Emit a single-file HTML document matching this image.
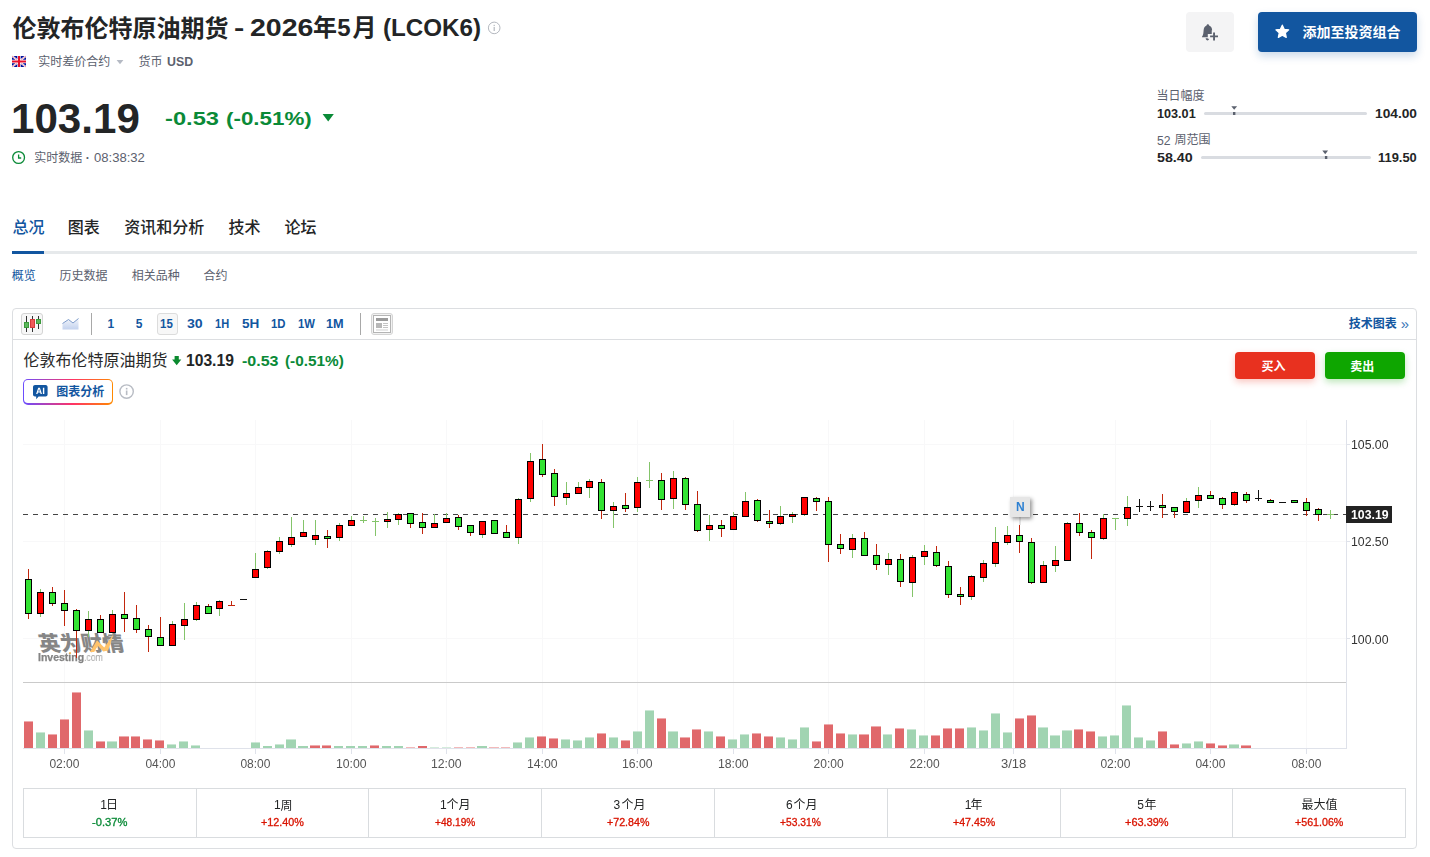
<!DOCTYPE html>
<html lang="zh-CN"><head><meta charset="utf-8"><title>伦敦布伦特原油期货 - 2026年5月 (LCOK6)</title><style>html,body{margin:0;padding:0;background:#fff}
body{width:1430px;height:857px;position:relative;overflow:hidden;font-family:"Liberation Sans",sans-serif}
.t{position:absolute;white-space:pre;line-height:1;transform-origin:0 0;display:block}
.b{position:absolute}
.cj{position:absolute;overflow:visible;display:block}
.cj text{font-family:"Liberation Sans","Noto Sans CJK SC",sans-serif}</style></head>
<body>
<svg class="cj" role="img" aria-label="伦敦布伦特原油期货" style="left:10.50px;top:13.81px;" width="218.70" height="26.85"><text x="1.592" y="22.592" font-size="24" font-weight="700" fill="#232526">伦敦布伦特原油期货</text></svg>
<span class="t" style="left:233.74px;top:16px;font-size:24px;font-weight:700;color:#232526;transform:scaleX(1.2867);">-</span>
<span class="t" style="left:250.07px;top:16px;font-size:24px;font-weight:700;color:#232526;transform:scaleX(1.1881);">2026</span>
<svg class="cj" role="img" aria-label="年" style="left:311.50px;top:13.90px;" width="26.15" height="26.66"><text x="1.112" y="22.496" font-size="24" font-weight="700" fill="#232526">年</text></svg>
<span class="t" style="left:337.32px;top:16px;font-size:24px;font-weight:700;color:#232526;">5</span>
<svg class="cj" role="img" aria-label="月" style="left:350.80px;top:15.15px;" width="23.68" height="25.41"><text x="1.496" y="21.248" font-size="24" font-weight="700" fill="#232526">月</text></svg>
<span class="t" style="left:382.68px;top:16px;font-size:24px;font-weight:700;color:#232526;transform:scaleX(1.0074);">(LCOK6)</span>
<svg class="cj" style="left:487px;top:21px;" width="14" height="14"><circle cx="7.2" cy="6.9" r="5.8" fill="none" stroke="#b4b8bf" stroke-width="1"/><rect x="6.6" y="6" width="1.2" height="4" fill="#b4b8bf"/><rect x="6.6" y="3.8" width="1.2" height="1.3" fill="#b4b8bf"/></svg>
<svg class="cj" style="left:12px;top:56px;" width="14" height="11" viewBox="0 0 14 11"><rect width="14" height="11" fill="#00109c"/><path d="M0 0L14 11M14 0L0 11" stroke="#fff" stroke-width="1.7"/><path d="M0 0L14 11M14 0L0 11" stroke="#ee4a60" stroke-width="0.6"/><path d="M7 0V11M0 5.5H14" stroke="#fff" stroke-width="3.4"/><path d="M7 0V11M0 5.5H14" stroke="#e8112d" stroke-width="2.1"/></svg>
<svg class="cj" role="img" aria-label="实时差价合约" style="left:36.70px;top:54.04px;" width="74.22" height="15.22"><text x="1.148" y="12.164" font-size="12" fill="#5b616e">实时差价合约</text></svg>
<svg class="cj" style="left:116px;top:59px;" width="8" height="6"><path d="M0.6 1.1H7.4L4 5.3Z" fill="#b5bac4"/></svg>
<svg class="cj" role="img" aria-label="货币" style="left:136.60px;top:54.06px;" width="26.56" height="15.10"><text x="1.532" y="12.140" font-size="12" fill="#5b616e">货币</text></svg>
<span class="t" style="left:167.44px;top:56px;font-size:12px;font-weight:700;color:#5b616e;transform:scaleX(1.0276);">USD</span>
<span class="t" style="left:11.08px;top:97px;font-size:43px;font-weight:700;color:#232526;transform:scaleX(0.9793);">103.19</span>
<span class="t" style="left:164.98px;top:109px;font-size:19px;font-weight:700;color:#0a8a37;transform:scaleX(1.2462);">-0.53</span>
<span class="t" style="left:226.39px;top:109px;font-size:19px;font-weight:700;color:#0a8a37;transform:scaleX(1.1767);">(-0.51%)</span>
<svg class="cj" style="left:322px;top:113px;" width="13" height="10"><path d="M0.6 1H11.8L6.2 8.6Z" fill="#0a8a37"/></svg>
<svg class="cj" style="left:11px;top:150px;" width="16" height="16"><circle cx="7.6" cy="7.5" r="5.9" fill="none" stroke="#0a8a37" stroke-width="1.3"/><path d="M7.6 4.4V8H10.2" fill="none" stroke="#0a8a37" stroke-width="1.3"/></svg>
<svg class="cj" role="img" aria-label="实时数据" style="left:32.50px;top:150.04px;" width="50.64" height="15.16"><text x="1.148" y="12.164" font-size="12" fill="#5b616e">实时数据</text></svg>
<span class="t" style="left:85.73px;top:152px;font-size:12px;font-weight:700;color:#5b616e;">·</span>
<span class="t" style="left:93.67px;top:152px;font-size:12px;font-weight:400;color:#5b616e;transform:scaleX(1.0894);">08:38:32</span>
<div class="b" style="left:1186px;top:12px;width:47.5px;height:40px;background:#f4f4f5;border-radius:4px"></div>
<svg class="cj" style="left:1202px;top:23.6px;" width="17" height="17"><path d="M5.85 0.2C6.6 0.2 7.1 0.8 7.1 1.55C9 2.3 10.1 4.1 10.2 6.4C10.3 8.6 10.5 10.3 11 11.6C11.3 12.3 11.6 12.8 11.6 13.3H0.2C-0.1 13.3 -0.2 13 0 12.7C0.7 11.8 1.1 10.9 1.3 9.6C1.5 8.4 1.5 7.4 1.6 6.4C1.7 4.1 2.8 2.3 4.6 1.55C4.6 0.8 5.1 0.2 5.85 0.2Z" fill="#5b616e"/><path d="M3.6 14.3H7.2C7.1 15.6 6.4 16.4 5.5 16.4C4.6 16.4 3.8 15.6 3.6 14.3Z" fill="#5b616e"/><path d="M12.05 8.5V16.4M8.1 12.4H16" stroke="#f4f4f5" stroke-width="4.6" stroke-linecap="square"/><path d="M12.05 8.5V16.4M8.1 12.4H16" stroke="#5b616e" stroke-width="1.9"/></svg>
<div class="b" style="left:1258px;top:12px;width:159px;height:40px;background:#1256a0;border-radius:4px;box-shadow:0 4px 8px rgba(18,86,160,.22)"></div>
<svg class="cj" style="left:1273px;top:22px;" width="20" height="20"><polygon points="9.30,3.20 11.18,7.31 15.67,7.83 12.34,10.89 13.24,15.32 9.30,13.10 5.36,15.32 6.26,10.89 2.93,7.83 7.42,7.31" fill="#fff" stroke="#fff" stroke-width="1.3" stroke-linejoin="round"/></svg>
<svg class="cj" role="img" aria-label="添加至投资组合" style="left:1301.30px;top:23.24px;" width="101.33" height="17.24"><text x="1.608" y="13.956" font-size="14" font-weight="700" fill="#fff">添加至投资组合</text></svg>
<svg class="cj" role="img" aria-label="当日幅度" style="left:1156.00px;top:88.16px;" width="50.16" height="15.11"><text x="0.620" y="12.140" font-size="12" fill="#5b616e">当日幅度</text></svg>
<span class="t" style="left:1156.92px;top:107px;font-size:13px;font-weight:700;color:#232526;transform:scaleX(0.9727);">103.01</span>
<div class="b" style="left:1204px;top:112px;width:163px;height:3px;background:#d9dce1;border-radius:2px"></div>
<svg class="cj" style="left:1230px;top:105px;" width="9" height="11"><path d="M1.3 1.2H7.1L4.2 4.8Z" fill="#5b616e"/><rect x="3" y="7" width="2.4" height="3" fill="#5b616e"/></svg>
<span class="t" style="left:1374.50px;top:107px;font-size:13px;font-weight:700;color:#232526;transform:scaleX(1.0558);">104.00</span>
<span class="t" style="left:1157.09px;top:135px;font-size:12px;font-weight:400;color:#5b616e;transform:scaleX(1.0134);">52</span>
<svg class="cj" role="img" aria-label="周范围" style="left:1172.60px;top:132.32px;" width="38.64" height="15.11"><text x="1.604" y="12.080" font-size="12" fill="#5b616e">周范围</text></svg>
<span class="t" style="left:1157.19px;top:151px;font-size:13px;font-weight:700;color:#232526;transform:scaleX(1.0970);">58.40</span>
<div class="b" style="left:1201.3px;top:156px;width:169.6px;height:3px;background:#d9dce1;border-radius:2px"></div>
<svg class="cj" style="left:1321px;top:149px;" width="9" height="11"><path d="M1.3 1.6H7.1L4.2 5.2Z" fill="#5b616e"/><rect x="3.9" y="7" width="2.4" height="3" fill="#5b616e"/></svg>
<span class="t" style="left:1378.48px;top:151px;font-size:13px;font-weight:700;color:#232526;transform:scaleX(0.9918);">119.50</span>
<svg class="cj" role="img" aria-label="总况" style="left:10.70px;top:217.00px;" width="34.96" height="18.86"><text x="1.392" y="15.504" font-size="16" font-weight="500" fill="#1256a0">总况</text></svg>
<svg class="cj" role="img" aria-label="图表" style="left:67.10px;top:217.00px;" width="34.27" height="18.86"><text x="0.736" y="15.504" font-size="16" font-weight="500" fill="#232526">图表</text></svg>
<svg class="cj" role="img" aria-label="资讯和分析" style="left:122.80px;top:217.00px;" width="82.72" height="18.90"><text x="1.328" y="15.504" font-size="16" font-weight="500" fill="#232526">资讯和分析</text></svg>
<svg class="cj" role="img" aria-label="技术" style="left:226.60px;top:217.00px;" width="34.98" height="18.86"><text x="1.472" y="15.504" font-size="16" font-weight="500" fill="#232526">技术</text></svg>
<svg class="cj" role="img" aria-label="论坛" style="left:283.20px;top:216.95px;" width="34.86" height="18.85"><text x="1.408" y="15.552" font-size="16" font-weight="500" fill="#232526">论坛</text></svg>
<div class="b" style="left:12px;top:251px;width:1405px;height:3px;background:#e6e9eb"></div>
<div class="b" style="left:12px;top:251px;width:32px;height:3px;background:#1256a0"></div>
<svg class="cj" role="img" aria-label="概览" style="left:10.10px;top:268.31px;" width="26.88" height="15.09"><text x="1.640" y="12.092" font-size="12" fill="#1256a0">概览</text></svg>
<svg class="cj" role="img" aria-label="历史数据" style="left:58.10px;top:268.31px;" width="51.08" height="15.09"><text x="1.580" y="12.092" font-size="12" fill="#5b616e">历史数据</text></svg>
<svg class="cj" role="img" aria-label="相关品种" style="left:130.10px;top:268.32px;" width="50.92" height="15.04"><text x="1.652" y="12.080" font-size="12" fill="#5b616e">相关品种</text></svg>
<svg class="cj" role="img" aria-label="合约" style="left:202.20px;top:268.28px;" width="26.60" height="15.05"><text x="1.520" y="12.116" font-size="12" fill="#5b616e">合约</text></svg>
<div class="b" style="left:12px;top:308px;width:1405px;height:541px;border:1px solid #dcdee1;border-radius:4px;box-sizing:border-box"></div>
<div class="b" style="left:13px;top:339px;width:1403px;height:1px;background:#dcdee1"></div>
<div class="b" style="left:21px;top:313px;width:22px;height:22px;border:1px solid #d4d4d4;border-radius:3px;background:#f7f7f7;box-sizing:border-box"></div>
<svg class="cj" style="left:21px;top:313px;" width="22" height="22"><path d="M5.5 3V19M11.5 3V19M17.5 3V16" stroke="#333" stroke-width="1"/><rect x="3.5" y="9.5" width="4" height="5" fill="#5cb85c" stroke="#3c9a3c"/><rect x="9.5" y="6.5" width="4" height="8" fill="#f05a5a" stroke="#d43c3c"/><rect x="15.5" y="6.5" width="4" height="4" fill="#5cb85c" stroke="#3c9a3c"/></svg>
<svg class="cj" style="left:61.5px;top:317px;" width="18" height="14"><defs><linearGradient id="ag" x1="0" y1="0" x2="0" y2="1"><stop offset="0" stop-color="#f2f5fb"/><stop offset="1" stop-color="#c3d2ee"/></linearGradient></defs><path d="M0.5 6.5L6.5 2.5L11 6L16.5 1.5V12.5H0.5Z" fill="url(#ag)"/><path d="M0.5 6.5L6.5 2.5L11 6L16.5 1.5" fill="none" stroke="#7e9ccb" stroke-width="1"/></svg>
<div class="b" style="left:91px;top:313px;width:1px;height:22px;background:#a8a8a8"></div>
<div class="b" style="left:156.5px;top:313px;width:21px;height:22px;border:1px solid #dcdcdc;border-radius:3px;background:#f7f7f7;box-sizing:border-box"></div>
<span class="t" style="left:107.45px;top:318px;font-size:12px;font-weight:700;color:#1256a0;">1</span>
<span class="t" style="left:135.69px;top:318px;font-size:12px;font-weight:700;color:#1256a0;">5</span>
<span class="t" style="left:160.09px;top:318px;font-size:12px;font-weight:700;color:#1256a0;transform:scaleX(0.9553);">15</span>
<span class="t" style="left:186.68px;top:318px;font-size:12px;font-weight:700;color:#1256a0;transform:scaleX(1.1772);">30</span>
<span class="t" style="left:215.31px;top:318px;font-size:12px;font-weight:700;color:#1256a0;transform:scaleX(0.9199);">1H</span>
<span class="t" style="left:242.49px;top:318px;font-size:12px;font-weight:700;color:#1256a0;transform:scaleX(1.1287);">5H</span>
<span class="t" style="left:270.91px;top:318px;font-size:12px;font-weight:700;color:#1256a0;transform:scaleX(0.9476);">1D</span>
<span class="t" style="left:297.99px;top:318px;font-size:12px;font-weight:700;color:#1256a0;transform:scaleX(0.9425);">1W</span>
<span class="t" style="left:326.13px;top:318px;font-size:12px;font-weight:700;color:#1256a0;transform:scaleX(1.0595);">1M</span>
<div class="b" style="left:360px;top:313px;width:1px;height:22px;background:#a8a8a8"></div>
<div class="b" style="left:371px;top:313px;width:22px;height:22px;border:1px solid #d4d4d4;border-radius:3px;background:#f2f2f2;box-sizing:border-box"></div>
<svg class="cj" style="left:371px;top:313px;" width="22" height="22"><rect x="2.5" y="2.5" width="17" height="17" fill="#fff" stroke="#b4b4b4"/><rect x="5" y="5" width="12" height="3" fill="#9a9a9a"/><rect x="5" y="10" width="6" height="5" fill="#b8b8b8"/><rect x="12" y="10" width="5" height="1" fill="#c4c4c4"/><rect x="12" y="12" width="5" height="1" fill="#c4c4c4"/><rect x="12" y="14" width="5" height="1" fill="#c4c4c4"/><rect x="5" y="16.5" width="12" height="1" fill="#d0d0d0"/></svg>
<svg class="cj" role="img" aria-label="技术图表" style="left:1346.80px;top:316.10px;" width="51.40" height="15.28"><text x="1.676" y="12.200" font-size="12" font-weight="700" fill="#1256a0">技术图表</text></svg>
<span class="t" style="left:1400.78px;top:316px;font-size:15px;font-weight:400;color:#3a76b8;">»</span>
<svg class="cj" role="img" aria-label="伦敦布伦特原油期货" style="left:21.90px;top:350.26px;" width="146.67" height="18.88"><text x="1.552" y="15.536" font-size="16" fill="#2a2a2a">伦敦布伦特原油期货</text></svg>
<svg class="cj" style="left:171px;top:355px;" width="12" height="11"><path d="M3.6 0.9H7.8V4.6H10.3L5.7 10.2L1.1 4.6H3.6Z" fill="#0b8a2f"/></svg>
<span class="t" style="left:185.66px;top:353px;font-size:16px;font-weight:700;color:#232526;transform:scaleX(0.9776);">103.19</span>
<span class="t" style="left:242.15px;top:354px;font-size:14px;font-weight:700;color:#0a8a37;transform:scaleX(1.1446);">-0.53</span>
<span class="t" style="left:284.92px;top:354px;font-size:14px;font-weight:700;color:#0a8a37;transform:scaleX(1.0962);">(-0.51%)</span>
<div class="b" style="left:23px;top:379px;width:90px;height:25.5px;border-radius:5px;background:linear-gradient(90deg,#6a4dff 0%,#ff3366 55%,#ff8a00 100%)"></div>
<div class="b" style="left:24.3px;top:380.3px;width:87.4px;height:22.9px;border-radius:3.8px;background:#fff"></div>
<svg class="cj" style="left:32.5px;top:384.7px;" width="15" height="15"><path d="M2 0H12.6C13.7 0 14.6 0.9 14.6 2V9.4C14.6 10.5 13.7 11.4 12.6 11.4H5.6L3.2 14.2V11.4H2C0.9 11.4 0 10.5 0 9.4V2C0 0.9 0.9 0 2 0Z" fill="#1256a0"/><path d="M3.1 8.9L5.2 2.7H6.9L9 8.9H7.6L7.2 7.6H4.9L4.5 8.9ZM5.25 6.5H6.85L6.05 3.9ZM9.9 2.7H11.3V8.9H9.9Z" fill="#fff"/></svg>
<svg class="cj" role="img" aria-label="图表分析" style="left:54.60px;top:384.10px;" width="50.76" height="15.30"><text x="1.136" y="12.200" font-size="12" font-weight="700" fill="#1256a0">图表分析</text></svg>
<svg class="cj" style="left:119px;top:384px;" width="16" height="16"><circle cx="7.6" cy="7.6" r="6.7" fill="none" stroke="#b8bcc4" stroke-width="1.4"/><rect x="6.85" y="6.5" width="1.6" height="4.6" fill="#b8bcc4"/><rect x="6.85" y="3.9" width="1.6" height="1.6" fill="#b8bcc4"/></svg>
<div class="b" style="left:1235px;top:352px;width:80px;height:27px;background:#e8311f;border-radius:4px;box-shadow:0 3px 7px rgba(232,49,31,.28)"></div>
<svg class="cj" role="img" aria-label="买入" style="left:1259.50px;top:359.17px;" width="27.29" height="15.21"><text x="1.556" y="12.128" font-size="12" font-weight="700" fill="#fff">买入</text></svg>
<div class="b" style="left:1325px;top:352px;width:80px;height:27px;background:#0ea600;border-radius:4px;box-shadow:0 3px 7px rgba(14,166,0,.28)"></div>
<svg class="cj" role="img" aria-label="卖出" style="left:1349.40px;top:359.11px;" width="26.28" height="15.32"><text x="1.364" y="12.188" font-size="12" font-weight="700" fill="#fff">卖出</text></svg>
<svg class="cj" style="left:0;top:0" width="1430" height="857" shape-rendering="crispEdges"><rect x="64" y="420" width="1" height="328" fill="#f8f8f9"/><rect x="64" y="749" width="1" height="5" fill="#dfe2ea"/><rect x="160" y="420" width="1" height="328" fill="#f8f8f9"/><rect x="160" y="749" width="1" height="5" fill="#dfe2ea"/><rect x="255" y="420" width="1" height="328" fill="#f8f8f9"/><rect x="255" y="749" width="1" height="5" fill="#dfe2ea"/><rect x="351" y="420" width="1" height="328" fill="#f8f8f9"/><rect x="351" y="749" width="1" height="5" fill="#dfe2ea"/><rect x="446" y="420" width="1" height="328" fill="#f8f8f9"/><rect x="446" y="749" width="1" height="5" fill="#dfe2ea"/><rect x="542" y="420" width="1" height="328" fill="#f8f8f9"/><rect x="542" y="749" width="1" height="5" fill="#dfe2ea"/><rect x="637" y="420" width="1" height="328" fill="#f8f8f9"/><rect x="637" y="749" width="1" height="5" fill="#dfe2ea"/><rect x="733" y="420" width="1" height="328" fill="#f8f8f9"/><rect x="733" y="749" width="1" height="5" fill="#dfe2ea"/><rect x="828" y="420" width="1" height="328" fill="#f8f8f9"/><rect x="828" y="749" width="1" height="5" fill="#dfe2ea"/><rect x="924" y="420" width="1" height="328" fill="#f8f8f9"/><rect x="924" y="749" width="1" height="5" fill="#dfe2ea"/><rect x="1013" y="420" width="1" height="328" fill="#f8f8f9"/><rect x="1013" y="749" width="1" height="5" fill="#dfe2ea"/><rect x="1115" y="420" width="1" height="328" fill="#f8f8f9"/><rect x="1115" y="749" width="1" height="5" fill="#dfe2ea"/><rect x="1210" y="420" width="1" height="328" fill="#f8f8f9"/><rect x="1210" y="749" width="1" height="5" fill="#dfe2ea"/><rect x="1306" y="420" width="1" height="328" fill="#f8f8f9"/><rect x="1306" y="749" width="1" height="5" fill="#dfe2ea"/><rect x="23" y="444" width="1323" height="1" fill="#f8f8f9"/><rect x="1347" y="444" width="3" height="1" fill="#dfe2ea"/><rect x="23" y="541" width="1323" height="1" fill="#f8f8f9"/><rect x="1347" y="541" width="3" height="1" fill="#dfe2ea"/><rect x="23" y="638" width="1323" height="1" fill="#f8f8f9"/><rect x="1347" y="638" width="3" height="1" fill="#dfe2ea"/><rect x="23" y="682" width="1324" height="1" fill="#cacaca"/><rect x="1346" y="420" width="1" height="329" fill="#dfe2ea"/><rect x="23" y="748" width="1324" height="1" fill="#dfe2ea"/></svg>
<svg class="cj" role="img" aria-label="英为财情" style="left:38.90px;top:630.54px;" width="87.99" height="23.99"><text transform="translate(1.554 19.955) scale(1.0119 1) skewX(12)" x="0" y="0" font-size="21" font-weight="900" fill="#868686">英为财情</text></svg>
<svg class="cj" style="left:88px;top:632px;" width="28" height="22"><path d="M2 20L9 8.2L16.2 15.5L25.6 2L20.2 18.6L15.2 19.6L9.8 13.8L6.2 20Z" fill="#ffc36b"/></svg>
<span class="t" style="left:38.10px;top:653px;font-size:10px;font-weight:700;color:#848484;transform:scaleX(1.0503);will-change:transform;-webkit-text-stroke:0.25px #848484;">Investing</span>
<span class="t" style="left:84.40px;top:653px;font-size:10px;font-weight:400;color:#a4a4a4;transform:scaleX(0.8707);will-change:transform;">.com</span>
<div class="b" style="left:69.2px;top:652.4px;width:1.8px;height:1.8px;background:#ffb84d;border-radius:1px"></div>
<svg class="cj" style="left:0;top:0" width="1430" height="857" shape-rendering="crispEdges"><path d="M23 514.5h5M33 514.5h5M43 514.5h5M53 514.5h5M63 514.5h5M73 514.5h5M83 514.5h5M93 514.5h5M103 514.5h5M113 514.5h5M123 514.5h5M133 514.5h5M143 514.5h5M153 514.5h5M163 514.5h5M173 514.5h5M183 514.5h5M193 514.5h5M203 514.5h5M213 514.5h5M223 514.5h5M233 514.5h5M243 514.5h5M253 514.5h5M263 514.5h5M273 514.5h5M283 514.5h5M293 514.5h5M303 514.5h5M313 514.5h5M323 514.5h5M333 514.5h5M343 514.5h5M353 514.5h5M363 514.5h5M373 514.5h5M383 514.5h5M393 514.5h5M403 514.5h5M413 514.5h5M423 514.5h5M433 514.5h5M443 514.5h5M453 514.5h5M463 514.5h5M473 514.5h5M483 514.5h5M493 514.5h5M503 514.5h5M513 514.5h5M523 514.5h5M533 514.5h5M543 514.5h5M553 514.5h5M563 514.5h5M573 514.5h5M583 514.5h5M593 514.5h5M603 514.5h5M613 514.5h5M623 514.5h5M633 514.5h5M643 514.5h5M653 514.5h5M663 514.5h5M673 514.5h5M683 514.5h5M693 514.5h5M703 514.5h5M713 514.5h5M723 514.5h5M733 514.5h5M743 514.5h5M753 514.5h5M763 514.5h5M773 514.5h5M783 514.5h5M793 514.5h5M803 514.5h5M813 514.5h5M823 514.5h5M833 514.5h5M843 514.5h5M853 514.5h5M863 514.5h5M873 514.5h5M883 514.5h5M893 514.5h5M903 514.5h5M913 514.5h5M923 514.5h5M933 514.5h5M943 514.5h5M953 514.5h5M963 514.5h5M973 514.5h5M983 514.5h5M993 514.5h5M1003 514.5h5M1013 514.5h5M1023 514.5h5M1033 514.5h5M1043 514.5h5M1053 514.5h5M1063 514.5h5M1073 514.5h5M1083 514.5h5M1093 514.5h5M1103 514.5h5M1113 514.5h5M1123 514.5h5M1133 514.5h5M1143 514.5h5M1153 514.5h5M1163 514.5h5M1173 514.5h5M1183 514.5h5M1193 514.5h5M1203 514.5h5M1213 514.5h5M1223 514.5h5M1233 514.5h5M1243 514.5h5M1253 514.5h5M1263 514.5h5M1273 514.5h5M1283 514.5h5M1293 514.5h5M1303 514.5h5M1313 514.5h5M1323 514.5h5M1333 514.5h5M1343 514.5h5" stroke="#444" stroke-width="1" shape-rendering="crispEdges"/><rect x="28" y="569" width="1" height="10" fill="#c2260c"/><rect x="28" y="614" width="1" height="5" fill="#c2260c"/><rect x="25" y="579" width="7" height="35" fill="#000"/><rect x="26" y="580" width="5" height="33" fill="#33e333"/><rect x="40" y="589" width="1" height="3" fill="#84c46a"/><rect x="40" y="614" width="1" height="3" fill="#84c46a"/><rect x="37" y="592" width="7" height="22" fill="#000"/><rect x="38" y="593" width="5" height="20" fill="#ff0000"/><rect x="52" y="587" width="1" height="5" fill="#c2260c"/><rect x="52" y="604" width="1" height="2" fill="#c2260c"/><rect x="49" y="592" width="7" height="12" fill="#000"/><rect x="50" y="593" width="5" height="10" fill="#33e333"/><rect x="64" y="590" width="1" height="13" fill="#c2260c"/><rect x="64" y="611" width="1" height="15" fill="#c2260c"/><rect x="61" y="603" width="7" height="8" fill="#000"/><rect x="62" y="604" width="5" height="6" fill="#33e333"/><rect x="76" y="609" width="1" height="1" fill="#c2260c"/><rect x="76" y="631" width="1" height="27" fill="#c2260c"/><rect x="73" y="610" width="7" height="21" fill="#000"/><rect x="74" y="611" width="5" height="19" fill="#33e333"/><rect x="88" y="611" width="1" height="8" fill="#84c46a"/><rect x="88" y="631" width="1" height="6" fill="#84c46a"/><rect x="85" y="619" width="7" height="12" fill="#000"/><rect x="86" y="620" width="5" height="10" fill="#ff0000"/><rect x="100" y="615" width="1" height="4" fill="#c2260c"/><rect x="97" y="619" width="7" height="14" fill="#000"/><rect x="98" y="620" width="5" height="12" fill="#33e333"/><rect x="112" y="610" width="1" height="4" fill="#84c46a"/><rect x="109" y="614" width="7" height="19" fill="#000"/><rect x="110" y="615" width="5" height="17" fill="#ff0000"/><rect x="124" y="592" width="1" height="22" fill="#c2260c"/><rect x="124" y="619" width="1" height="13" fill="#c2260c"/><rect x="121" y="614" width="7" height="5" fill="#000"/><rect x="122" y="615" width="5" height="3" fill="#33e333"/><rect x="136" y="605" width="1" height="13" fill="#c2260c"/><rect x="136" y="630" width="1" height="3" fill="#c2260c"/><rect x="133" y="618" width="7" height="12" fill="#000"/><rect x="134" y="619" width="5" height="10" fill="#33e333"/><rect x="148" y="625" width="1" height="4" fill="#c2260c"/><rect x="148" y="637" width="1" height="15" fill="#c2260c"/><rect x="145" y="629" width="7" height="8" fill="#000"/><rect x="146" y="630" width="5" height="6" fill="#33e333"/><rect x="160" y="617" width="1" height="20" fill="#c2260c"/><rect x="157" y="637" width="7" height="9" fill="#000"/><rect x="158" y="638" width="5" height="7" fill="#33e333"/><rect x="172" y="621" width="1" height="3" fill="#84c46a"/><rect x="169" y="624" width="7" height="22" fill="#000"/><rect x="170" y="625" width="5" height="20" fill="#ff0000"/><rect x="184" y="603" width="1" height="16" fill="#84c46a"/><rect x="184" y="626" width="1" height="14" fill="#84c46a"/><rect x="181" y="619" width="7" height="7" fill="#000"/><rect x="182" y="620" width="5" height="5" fill="#ff0000"/><rect x="196" y="602" width="1" height="3" fill="#84c46a"/><rect x="196" y="620" width="1" height="1" fill="#84c46a"/><rect x="193" y="605" width="7" height="15" fill="#000"/><rect x="194" y="606" width="5" height="13" fill="#ff0000"/><rect x="208" y="604" width="1" height="2" fill="#c2260c"/><rect x="205" y="606" width="7" height="8" fill="#000"/><rect x="206" y="607" width="5" height="6" fill="#33e333"/><rect x="219" y="600" width="1" height="1" fill="#84c46a"/><rect x="219" y="609" width="1" height="7" fill="#84c46a"/><rect x="216" y="601" width="7" height="8" fill="#000"/><rect x="217" y="602" width="5" height="6" fill="#ff0000"/><rect x="255" y="553" width="1" height="16" fill="#84c46a"/><rect x="252" y="569" width="7" height="9" fill="#000"/><rect x="253" y="570" width="5" height="7" fill="#ff0000"/><rect x="267" y="550" width="1" height="1" fill="#84c46a"/><rect x="267" y="568" width="1" height="1" fill="#84c46a"/><rect x="264" y="551" width="7" height="17" fill="#000"/><rect x="265" y="552" width="5" height="15" fill="#ff0000"/><rect x="279" y="537" width="1" height="4" fill="#84c46a"/><rect x="279" y="552" width="1" height="2" fill="#84c46a"/><rect x="276" y="541" width="7" height="11" fill="#000"/><rect x="277" y="542" width="5" height="9" fill="#ff0000"/><rect x="291" y="517" width="1" height="20" fill="#84c46a"/><rect x="291" y="545" width="1" height="2" fill="#84c46a"/><rect x="288" y="537" width="7" height="8" fill="#000"/><rect x="289" y="538" width="5" height="6" fill="#ff0000"/><rect x="303" y="520" width="1" height="12" fill="#84c46a"/><rect x="300" y="532" width="7" height="5" fill="#000"/><rect x="301" y="533" width="5" height="3" fill="#ff0000"/><rect x="315" y="520" width="1" height="15" fill="#84c46a"/><rect x="315" y="540" width="1" height="5" fill="#84c46a"/><rect x="312" y="535" width="7" height="5" fill="#000"/><rect x="313" y="536" width="5" height="3" fill="#ff0000"/><rect x="327" y="530" width="1" height="6" fill="#c2260c"/><rect x="327" y="539" width="1" height="9" fill="#c2260c"/><rect x="324" y="536" width="7" height="3" fill="#000"/><rect x="325" y="537" width="5" height="1" fill="#33e333"/><rect x="339" y="523" width="1" height="2" fill="#84c46a"/><rect x="339" y="538" width="1" height="3" fill="#84c46a"/><rect x="336" y="525" width="7" height="13" fill="#000"/><rect x="337" y="526" width="5" height="11" fill="#ff0000"/><rect x="351" y="516" width="1" height="4" fill="#84c46a"/><rect x="348" y="520" width="7" height="6" fill="#000"/><rect x="349" y="521" width="5" height="4" fill="#ff0000"/><rect x="387" y="512" width="1" height="7" fill="#84c46a"/><rect x="387" y="522" width="1" height="6" fill="#84c46a"/><rect x="384" y="519" width="7" height="3" fill="#000"/><rect x="385" y="520" width="5" height="1" fill="#ff0000"/><rect x="398" y="513" width="1" height="1" fill="#84c46a"/><rect x="398" y="520" width="1" height="5" fill="#84c46a"/><rect x="395" y="514" width="7" height="6" fill="#000"/><rect x="396" y="515" width="5" height="4" fill="#ff0000"/><rect x="410" y="524" width="1" height="4" fill="#c2260c"/><rect x="407" y="513" width="7" height="11" fill="#000"/><rect x="408" y="514" width="5" height="9" fill="#33e333"/><rect x="422" y="513" width="1" height="9" fill="#c2260c"/><rect x="422" y="528" width="1" height="6" fill="#c2260c"/><rect x="419" y="522" width="7" height="6" fill="#000"/><rect x="420" y="523" width="5" height="4" fill="#33e333"/><rect x="434" y="514" width="1" height="9" fill="#84c46a"/><rect x="431" y="523" width="7" height="5" fill="#000"/><rect x="432" y="524" width="5" height="3" fill="#ff0000"/><rect x="446" y="513" width="1" height="5" fill="#84c46a"/><rect x="443" y="518" width="7" height="5" fill="#000"/><rect x="444" y="519" width="5" height="3" fill="#ff0000"/><rect x="458" y="515" width="1" height="2" fill="#c2260c"/><rect x="458" y="527" width="1" height="3" fill="#c2260c"/><rect x="455" y="517" width="7" height="10" fill="#000"/><rect x="456" y="518" width="5" height="8" fill="#33e333"/><rect x="470" y="533" width="1" height="3" fill="#c2260c"/><rect x="467" y="525" width="7" height="8" fill="#000"/><rect x="468" y="526" width="5" height="6" fill="#33e333"/><rect x="482" y="535" width="1" height="3" fill="#84c46a"/><rect x="479" y="521" width="7" height="14" fill="#000"/><rect x="480" y="522" width="5" height="12" fill="#ff0000"/><rect x="491" y="520" width="7" height="14" fill="#000"/><rect x="492" y="521" width="5" height="12" fill="#33e333"/><rect x="506" y="525" width="1" height="7" fill="#c2260c"/><rect x="503" y="532" width="7" height="6" fill="#000"/><rect x="504" y="533" width="5" height="4" fill="#33e333"/><rect x="518" y="498" width="1" height="1" fill="#84c46a"/><rect x="518" y="538" width="1" height="6" fill="#84c46a"/><rect x="515" y="499" width="7" height="39" fill="#000"/><rect x="516" y="500" width="5" height="37" fill="#ff0000"/><rect x="530" y="453" width="1" height="8" fill="#84c46a"/><rect x="530" y="499" width="1" height="3" fill="#84c46a"/><rect x="527" y="461" width="7" height="38" fill="#000"/><rect x="528" y="462" width="5" height="36" fill="#ff0000"/><rect x="542" y="444" width="1" height="15" fill="#c2260c"/><rect x="542" y="475" width="1" height="2" fill="#c2260c"/><rect x="539" y="459" width="7" height="16" fill="#000"/><rect x="540" y="460" width="5" height="14" fill="#33e333"/><rect x="554" y="469" width="1" height="4" fill="#c2260c"/><rect x="554" y="497" width="1" height="9" fill="#c2260c"/><rect x="551" y="473" width="7" height="24" fill="#000"/><rect x="552" y="474" width="5" height="22" fill="#33e333"/><rect x="566" y="482" width="1" height="11" fill="#84c46a"/><rect x="566" y="498" width="1" height="7" fill="#84c46a"/><rect x="563" y="493" width="7" height="5" fill="#000"/><rect x="564" y="494" width="5" height="3" fill="#ff0000"/><rect x="578" y="482" width="1" height="5" fill="#84c46a"/><rect x="575" y="487" width="7" height="7" fill="#000"/><rect x="576" y="488" width="5" height="5" fill="#ff0000"/><rect x="589" y="479" width="1" height="2" fill="#84c46a"/><rect x="589" y="488" width="1" height="10" fill="#84c46a"/><rect x="586" y="481" width="7" height="7" fill="#000"/><rect x="587" y="482" width="5" height="5" fill="#ff0000"/><rect x="601" y="479" width="1" height="3" fill="#c2260c"/><rect x="601" y="511" width="1" height="8" fill="#c2260c"/><rect x="598" y="482" width="7" height="29" fill="#000"/><rect x="599" y="483" width="5" height="27" fill="#33e333"/><rect x="613" y="502" width="1" height="4" fill="#84c46a"/><rect x="613" y="511" width="1" height="17" fill="#84c46a"/><rect x="610" y="506" width="7" height="5" fill="#000"/><rect x="611" y="507" width="5" height="3" fill="#ff0000"/><rect x="625" y="493" width="1" height="12" fill="#c2260c"/><rect x="625" y="509" width="1" height="3" fill="#c2260c"/><rect x="622" y="505" width="7" height="4" fill="#000"/><rect x="623" y="506" width="5" height="2" fill="#33e333"/><rect x="637" y="477" width="1" height="5" fill="#84c46a"/><rect x="637" y="508" width="1" height="4" fill="#84c46a"/><rect x="634" y="482" width="7" height="26" fill="#000"/><rect x="635" y="483" width="5" height="24" fill="#ff0000"/><rect x="661" y="473" width="1" height="7" fill="#c2260c"/><rect x="661" y="500" width="1" height="10" fill="#c2260c"/><rect x="658" y="480" width="7" height="20" fill="#000"/><rect x="659" y="481" width="5" height="18" fill="#33e333"/><rect x="673" y="471" width="1" height="7" fill="#84c46a"/><rect x="673" y="499" width="1" height="10" fill="#84c46a"/><rect x="670" y="478" width="7" height="21" fill="#000"/><rect x="671" y="479" width="5" height="19" fill="#ff0000"/><rect x="685" y="477" width="1" height="1" fill="#c2260c"/><rect x="685" y="505" width="1" height="5" fill="#c2260c"/><rect x="682" y="478" width="7" height="27" fill="#000"/><rect x="683" y="479" width="5" height="25" fill="#33e333"/><rect x="697" y="491" width="1" height="13" fill="#c2260c"/><rect x="697" y="531" width="1" height="1" fill="#c2260c"/><rect x="694" y="504" width="7" height="27" fill="#000"/><rect x="695" y="505" width="5" height="25" fill="#33e333"/><rect x="709" y="515" width="1" height="10" fill="#84c46a"/><rect x="709" y="530" width="1" height="11" fill="#84c46a"/><rect x="706" y="525" width="7" height="5" fill="#000"/><rect x="707" y="526" width="5" height="3" fill="#ff0000"/><rect x="721" y="520" width="1" height="5" fill="#c2260c"/><rect x="721" y="529" width="1" height="8" fill="#c2260c"/><rect x="718" y="525" width="7" height="4" fill="#000"/><rect x="719" y="526" width="5" height="2" fill="#33e333"/><rect x="733" y="512" width="1" height="4" fill="#84c46a"/><rect x="730" y="516" width="7" height="14" fill="#000"/><rect x="731" y="517" width="5" height="12" fill="#ff0000"/><rect x="745" y="492" width="1" height="9" fill="#84c46a"/><rect x="742" y="501" width="7" height="16" fill="#000"/><rect x="743" y="502" width="5" height="14" fill="#ff0000"/><rect x="757" y="499" width="1" height="1" fill="#c2260c"/><rect x="757" y="521" width="1" height="1" fill="#c2260c"/><rect x="754" y="500" width="7" height="21" fill="#000"/><rect x="755" y="501" width="5" height="19" fill="#33e333"/><rect x="769" y="510" width="1" height="11" fill="#c2260c"/><rect x="769" y="524" width="1" height="4" fill="#c2260c"/><rect x="766" y="521" width="7" height="3" fill="#000"/><rect x="767" y="522" width="5" height="1" fill="#33e333"/><rect x="780" y="506" width="1" height="10" fill="#84c46a"/><rect x="780" y="524" width="1" height="1" fill="#84c46a"/><rect x="777" y="516" width="7" height="8" fill="#000"/><rect x="778" y="517" width="5" height="6" fill="#ff0000"/><rect x="792" y="512" width="1" height="2" fill="#84c46a"/><rect x="792" y="517" width="1" height="6" fill="#84c46a"/><rect x="789" y="514" width="7" height="3" fill="#000"/><rect x="790" y="515" width="5" height="1" fill="#ff0000"/><rect x="804" y="515" width="1" height="1" fill="#84c46a"/><rect x="801" y="497" width="7" height="18" fill="#000"/><rect x="802" y="498" width="5" height="16" fill="#ff0000"/><rect x="816" y="497" width="1" height="1" fill="#c2260c"/><rect x="816" y="502" width="1" height="9" fill="#c2260c"/><rect x="813" y="498" width="7" height="4" fill="#000"/><rect x="814" y="499" width="5" height="2" fill="#33e333"/><rect x="828" y="497" width="1" height="4" fill="#c2260c"/><rect x="828" y="545" width="1" height="17" fill="#c2260c"/><rect x="825" y="501" width="7" height="44" fill="#000"/><rect x="826" y="502" width="5" height="42" fill="#33e333"/><rect x="840" y="534" width="1" height="10" fill="#c2260c"/><rect x="840" y="549" width="1" height="5" fill="#c2260c"/><rect x="837" y="544" width="7" height="5" fill="#000"/><rect x="838" y="545" width="5" height="3" fill="#33e333"/><rect x="852" y="534" width="1" height="4" fill="#84c46a"/><rect x="852" y="550" width="1" height="8" fill="#84c46a"/><rect x="849" y="538" width="7" height="12" fill="#000"/><rect x="850" y="539" width="5" height="10" fill="#ff0000"/><rect x="864" y="532" width="1" height="6" fill="#c2260c"/><rect x="861" y="538" width="7" height="18" fill="#000"/><rect x="862" y="539" width="5" height="16" fill="#33e333"/><rect x="876" y="544" width="1" height="11" fill="#c2260c"/><rect x="876" y="565" width="1" height="5" fill="#c2260c"/><rect x="873" y="555" width="7" height="10" fill="#000"/><rect x="874" y="556" width="5" height="8" fill="#33e333"/><rect x="888" y="553" width="1" height="6" fill="#84c46a"/><rect x="888" y="565" width="1" height="10" fill="#84c46a"/><rect x="885" y="559" width="7" height="6" fill="#000"/><rect x="886" y="560" width="5" height="4" fill="#ff0000"/><rect x="900" y="554" width="1" height="5" fill="#c2260c"/><rect x="900" y="582" width="1" height="5" fill="#c2260c"/><rect x="897" y="559" width="7" height="23" fill="#000"/><rect x="898" y="560" width="5" height="21" fill="#33e333"/><rect x="912" y="555" width="1" height="2" fill="#84c46a"/><rect x="912" y="583" width="1" height="14" fill="#84c46a"/><rect x="909" y="557" width="7" height="26" fill="#000"/><rect x="910" y="558" width="5" height="24" fill="#ff0000"/><rect x="924" y="545" width="1" height="6" fill="#84c46a"/><rect x="924" y="557" width="1" height="8" fill="#84c46a"/><rect x="921" y="551" width="7" height="6" fill="#000"/><rect x="922" y="552" width="5" height="4" fill="#ff0000"/><rect x="936" y="546" width="1" height="6" fill="#c2260c"/><rect x="936" y="566" width="1" height="1" fill="#c2260c"/><rect x="933" y="552" width="7" height="14" fill="#000"/><rect x="934" y="553" width="5" height="12" fill="#33e333"/><rect x="948" y="561" width="1" height="5" fill="#c2260c"/><rect x="948" y="595" width="1" height="3" fill="#c2260c"/><rect x="945" y="566" width="7" height="29" fill="#000"/><rect x="946" y="567" width="5" height="27" fill="#33e333"/><rect x="960" y="587" width="1" height="7" fill="#c2260c"/><rect x="960" y="597" width="1" height="8" fill="#c2260c"/><rect x="957" y="594" width="7" height="3" fill="#000"/><rect x="958" y="595" width="5" height="1" fill="#33e333"/><rect x="971" y="575" width="1" height="1" fill="#84c46a"/><rect x="971" y="597" width="1" height="3" fill="#84c46a"/><rect x="968" y="576" width="7" height="21" fill="#000"/><rect x="969" y="577" width="5" height="19" fill="#ff0000"/><rect x="983" y="560" width="1" height="3" fill="#84c46a"/><rect x="983" y="578" width="1" height="4" fill="#84c46a"/><rect x="980" y="563" width="7" height="15" fill="#000"/><rect x="981" y="564" width="5" height="13" fill="#ff0000"/><rect x="995" y="527" width="1" height="15" fill="#84c46a"/><rect x="995" y="564" width="1" height="3" fill="#84c46a"/><rect x="992" y="542" width="7" height="22" fill="#000"/><rect x="993" y="543" width="5" height="20" fill="#ff0000"/><rect x="1007" y="526" width="1" height="9" fill="#84c46a"/><rect x="1007" y="543" width="1" height="2" fill="#84c46a"/><rect x="1004" y="535" width="7" height="8" fill="#000"/><rect x="1005" y="536" width="5" height="6" fill="#ff0000"/><rect x="1019" y="525" width="1" height="10" fill="#c2260c"/><rect x="1019" y="542" width="1" height="11" fill="#c2260c"/><rect x="1016" y="535" width="7" height="7" fill="#000"/><rect x="1017" y="536" width="5" height="5" fill="#33e333"/><rect x="1031" y="538" width="1" height="4" fill="#c2260c"/><rect x="1031" y="583" width="1" height="1" fill="#c2260c"/><rect x="1028" y="542" width="7" height="41" fill="#000"/><rect x="1029" y="543" width="5" height="39" fill="#33e333"/><rect x="1043" y="561" width="1" height="4" fill="#84c46a"/><rect x="1040" y="565" width="7" height="18" fill="#000"/><rect x="1041" y="566" width="5" height="16" fill="#ff0000"/><rect x="1055" y="546" width="1" height="14" fill="#84c46a"/><rect x="1055" y="566" width="1" height="6" fill="#84c46a"/><rect x="1052" y="560" width="7" height="6" fill="#000"/><rect x="1053" y="561" width="5" height="4" fill="#ff0000"/><rect x="1067" y="522" width="1" height="1" fill="#84c46a"/><rect x="1064" y="523" width="7" height="38" fill="#000"/><rect x="1065" y="524" width="5" height="36" fill="#ff0000"/><rect x="1079" y="513" width="1" height="10" fill="#c2260c"/><rect x="1079" y="533" width="1" height="3" fill="#c2260c"/><rect x="1076" y="523" width="7" height="10" fill="#000"/><rect x="1077" y="524" width="5" height="8" fill="#33e333"/><rect x="1091" y="530" width="1" height="2" fill="#c2260c"/><rect x="1091" y="538" width="1" height="21" fill="#c2260c"/><rect x="1088" y="532" width="7" height="6" fill="#000"/><rect x="1089" y="533" width="5" height="4" fill="#33e333"/><rect x="1103" y="514" width="1" height="4" fill="#84c46a"/><rect x="1103" y="539" width="1" height="1" fill="#84c46a"/><rect x="1100" y="518" width="7" height="21" fill="#000"/><rect x="1101" y="519" width="5" height="19" fill="#ff0000"/><rect x="1127" y="496" width="1" height="11" fill="#84c46a"/><rect x="1127" y="519" width="1" height="7" fill="#84c46a"/><rect x="1124" y="507" width="7" height="12" fill="#000"/><rect x="1125" y="508" width="5" height="10" fill="#ff0000"/><rect x="1162" y="494" width="1" height="11" fill="#c2260c"/><rect x="1162" y="508" width="1" height="10" fill="#c2260c"/><rect x="1159" y="505" width="7" height="3" fill="#000"/><rect x="1160" y="506" width="5" height="1" fill="#33e333"/><rect x="1174" y="512" width="1" height="6" fill="#c2260c"/><rect x="1171" y="507" width="7" height="5" fill="#000"/><rect x="1172" y="508" width="5" height="3" fill="#33e333"/><rect x="1186" y="498" width="1" height="3" fill="#84c46a"/><rect x="1183" y="501" width="7" height="12" fill="#000"/><rect x="1184" y="502" width="5" height="10" fill="#ff0000"/><rect x="1198" y="487" width="1" height="8" fill="#84c46a"/><rect x="1198" y="501" width="1" height="7" fill="#84c46a"/><rect x="1195" y="495" width="7" height="6" fill="#000"/><rect x="1196" y="496" width="5" height="4" fill="#ff0000"/><rect x="1210" y="491" width="1" height="4" fill="#c2260c"/><rect x="1207" y="495" width="7" height="4" fill="#000"/><rect x="1208" y="496" width="5" height="2" fill="#33e333"/><rect x="1222" y="497" width="1" height="1" fill="#c2260c"/><rect x="1222" y="505" width="1" height="4" fill="#c2260c"/><rect x="1219" y="498" width="7" height="7" fill="#000"/><rect x="1220" y="499" width="5" height="5" fill="#33e333"/><rect x="1234" y="491" width="1" height="1" fill="#84c46a"/><rect x="1234" y="505" width="1" height="1" fill="#84c46a"/><rect x="1231" y="492" width="7" height="13" fill="#000"/><rect x="1232" y="493" width="5" height="11" fill="#ff0000"/><rect x="1246" y="492" width="1" height="2" fill="#c2260c"/><rect x="1246" y="501" width="1" height="2" fill="#c2260c"/><rect x="1243" y="494" width="7" height="7" fill="#000"/><rect x="1244" y="495" width="5" height="5" fill="#33e333"/><rect x="1270" y="499" width="1" height="1" fill="#c2260c"/><rect x="1267" y="500" width="7" height="3" fill="#000"/><rect x="1268" y="501" width="5" height="1" fill="#33e333"/><rect x="1291" y="500" width="7" height="3" fill="#000"/><rect x="1292" y="501" width="5" height="1" fill="#33e333"/><rect x="1306" y="498" width="1" height="4" fill="#c2260c"/><rect x="1306" y="511" width="1" height="5" fill="#c2260c"/><rect x="1303" y="502" width="7" height="9" fill="#000"/><rect x="1304" y="503" width="5" height="7" fill="#33e333"/><rect x="1318" y="508" width="1" height="1" fill="#c2260c"/><rect x="1318" y="515" width="1" height="6" fill="#c2260c"/><rect x="1315" y="509" width="7" height="6" fill="#000"/><rect x="1316" y="510" width="5" height="4" fill="#33e333"/><rect x="231" y="601" width="1" height="5" fill="#c2260c"/><rect x="228" y="605" width="7" height="1" fill="#c2260c"/><rect x="243" y="599" width="1" height="1" fill="#111"/><rect x="240" y="599" width="7" height="1" fill="#111"/><rect x="363" y="516" width="1" height="7" fill="#84c46a"/><rect x="360" y="520" width="7" height="1" fill="#84c46a"/><rect x="375" y="518" width="1" height="18" fill="#84c46a"/><rect x="372" y="521" width="7" height="1" fill="#84c46a"/><rect x="649" y="462" width="1" height="26" fill="#84c46a"/><rect x="646" y="480" width="7" height="1" fill="#84c46a"/><rect x="1115" y="518" width="1" height="12" fill="#84c46a"/><rect x="1112" y="518" width="7" height="1" fill="#84c46a"/><rect x="1139" y="499" width="1" height="13" fill="#111"/><rect x="1136" y="506" width="7" height="1" fill="#111"/><rect x="1150" y="501" width="1" height="10" fill="#111"/><rect x="1147" y="506" width="7" height="1" fill="#111"/><rect x="1258" y="490" width="1" height="11" fill="#111"/><rect x="1255" y="498" width="7" height="1" fill="#111"/><rect x="1282" y="502" width="1" height="1" fill="#111"/><rect x="1279" y="502" width="7" height="1" fill="#111"/><rect x="1330" y="510" width="1" height="9" fill="#84c46a"/><rect x="1327" y="514" width="7" height="1" fill="#84c46a"/><rect x="24" y="721" width="9" height="1" fill="#e0686b" opacity="0.55"/><rect x="24" y="722" width="9" height="26" fill="#e0686b"/><rect x="36" y="732" width="9" height="1" fill="#a1d4b2" opacity="0.55"/><rect x="36" y="733" width="9" height="15" fill="#a1d4b2"/><rect x="48" y="734" width="9" height="1" fill="#e0686b" opacity="0.55"/><rect x="48" y="735" width="9" height="13" fill="#e0686b"/><rect x="60" y="719" width="9" height="1" fill="#e0686b" opacity="0.55"/><rect x="60" y="720" width="9" height="28" fill="#e0686b"/><rect x="72" y="692" width="9" height="1" fill="#e0686b" opacity="0.55"/><rect x="72" y="693" width="9" height="55" fill="#e0686b"/><rect x="84" y="730" width="9" height="1" fill="#a1d4b2" opacity="0.55"/><rect x="84" y="731" width="9" height="17" fill="#a1d4b2"/><rect x="96" y="741" width="9" height="1" fill="#e0686b" opacity="0.55"/><rect x="96" y="742" width="9" height="6" fill="#e0686b"/><rect x="107" y="741" width="10" height="1" fill="#a1d4b2" opacity="0.55"/><rect x="107" y="742" width="10" height="6" fill="#a1d4b2"/><rect x="119" y="736" width="10" height="1" fill="#e0686b" opacity="0.55"/><rect x="119" y="737" width="10" height="11" fill="#e0686b"/><rect x="131" y="736" width="9" height="1" fill="#e0686b" opacity="0.55"/><rect x="131" y="737" width="9" height="11" fill="#e0686b"/><rect x="143" y="739" width="9" height="1" fill="#e0686b" opacity="0.55"/><rect x="143" y="740" width="9" height="8" fill="#e0686b"/><rect x="155" y="740" width="9" height="1" fill="#e0686b" opacity="0.55"/><rect x="155" y="741" width="9" height="7" fill="#e0686b"/><rect x="167" y="744" width="9" height="1" fill="#a1d4b2" opacity="0.55"/><rect x="167" y="745" width="9" height="3" fill="#a1d4b2"/><rect x="179" y="741" width="9" height="1" fill="#a1d4b2" opacity="0.55"/><rect x="179" y="742" width="9" height="6" fill="#a1d4b2"/><rect x="191" y="745" width="9" height="1" fill="#a1d4b2" opacity="0.55"/><rect x="191" y="746" width="9" height="2" fill="#a1d4b2"/><rect x="251" y="742" width="9" height="1" fill="#a1d4b2" opacity="0.55"/><rect x="251" y="743" width="9" height="5" fill="#a1d4b2"/><rect x="263" y="746" width="9" height="2" fill="#a1d4b2"/><rect x="275" y="744" width="9" height="1" fill="#a1d4b2" opacity="0.55"/><rect x="275" y="745" width="9" height="3" fill="#a1d4b2"/><rect x="286" y="739" width="10" height="1" fill="#a1d4b2" opacity="0.55"/><rect x="286" y="740" width="10" height="8" fill="#a1d4b2"/><rect x="298" y="746" width="10" height="2" fill="#a1d4b2"/><rect x="310" y="745" width="10" height="1" fill="#e0686b" opacity="0.55"/><rect x="310" y="746" width="10" height="2" fill="#e0686b"/><rect x="322" y="745" width="9" height="1" fill="#e0686b" opacity="0.55"/><rect x="322" y="746" width="9" height="2" fill="#e0686b"/><rect x="334" y="746" width="9" height="2" fill="#a1d4b2"/><rect x="346" y="746" width="9" height="2" fill="#a1d4b2"/><rect x="358" y="746" width="9" height="2" fill="#a1d4b2"/><rect x="370" y="745" width="9" height="1" fill="#e0686b" opacity="0.55"/><rect x="370" y="746" width="9" height="2" fill="#e0686b"/><rect x="382" y="746" width="9" height="2" fill="#a1d4b2"/><rect x="394" y="746" width="9" height="2" fill="#a1d4b2"/><rect x="406" y="747" width="9" height="1" fill="#f3b9ba"/><rect x="418" y="746" width="9" height="2" fill="#e0686b"/><rect x="430" y="747" width="9" height="1" fill="#d4ecdc"/><rect x="442" y="747" width="9" height="1" fill="#d4ecdc"/><rect x="454" y="747" width="9" height="1" fill="#f3b9ba"/><rect x="466" y="747" width="9" height="1" fill="#f3b9ba"/><rect x="477" y="746" width="10" height="2" fill="#a1d4b2"/><rect x="489" y="747" width="10" height="1" fill="#f3b9ba"/><rect x="501" y="747" width="9" height="1" fill="#f3b9ba"/><rect x="513" y="742" width="9" height="1" fill="#a1d4b2" opacity="0.55"/><rect x="513" y="743" width="9" height="5" fill="#a1d4b2"/><rect x="525" y="737" width="9" height="1" fill="#a1d4b2" opacity="0.55"/><rect x="525" y="738" width="9" height="10" fill="#a1d4b2"/><rect x="537" y="736" width="9" height="1" fill="#e0686b" opacity="0.55"/><rect x="537" y="737" width="9" height="11" fill="#e0686b"/><rect x="549" y="738" width="9" height="1" fill="#e0686b" opacity="0.55"/><rect x="549" y="739" width="9" height="9" fill="#e0686b"/><rect x="561" y="739" width="9" height="1" fill="#a1d4b2" opacity="0.55"/><rect x="561" y="740" width="9" height="8" fill="#a1d4b2"/><rect x="573" y="740" width="9" height="1" fill="#a1d4b2" opacity="0.55"/><rect x="573" y="741" width="9" height="7" fill="#a1d4b2"/><rect x="585" y="737" width="9" height="1" fill="#a1d4b2" opacity="0.55"/><rect x="585" y="738" width="9" height="10" fill="#a1d4b2"/><rect x="597" y="733" width="9" height="1" fill="#e0686b" opacity="0.55"/><rect x="597" y="734" width="9" height="14" fill="#e0686b"/><rect x="609" y="737" width="9" height="1" fill="#a1d4b2" opacity="0.55"/><rect x="609" y="738" width="9" height="10" fill="#a1d4b2"/><rect x="621" y="740" width="9" height="1" fill="#e0686b" opacity="0.55"/><rect x="621" y="741" width="9" height="7" fill="#e0686b"/><rect x="633" y="731" width="9" height="1" fill="#a1d4b2" opacity="0.55"/><rect x="633" y="732" width="9" height="16" fill="#a1d4b2"/><rect x="645" y="710" width="9" height="1" fill="#a1d4b2" opacity="0.55"/><rect x="645" y="711" width="9" height="37" fill="#a1d4b2"/><rect x="657" y="718" width="9" height="1" fill="#e0686b" opacity="0.55"/><rect x="657" y="719" width="9" height="29" fill="#e0686b"/><rect x="668" y="731" width="10" height="1" fill="#a1d4b2" opacity="0.55"/><rect x="668" y="732" width="10" height="16" fill="#a1d4b2"/><rect x="680" y="737" width="10" height="1" fill="#e0686b" opacity="0.55"/><rect x="680" y="738" width="10" height="10" fill="#e0686b"/><rect x="692" y="729" width="9" height="1" fill="#e0686b" opacity="0.55"/><rect x="692" y="730" width="9" height="18" fill="#e0686b"/><rect x="704" y="731" width="9" height="1" fill="#a1d4b2" opacity="0.55"/><rect x="704" y="732" width="9" height="16" fill="#a1d4b2"/><rect x="716" y="736" width="9" height="1" fill="#e0686b" opacity="0.55"/><rect x="716" y="737" width="9" height="11" fill="#e0686b"/><rect x="728" y="739" width="9" height="1" fill="#a1d4b2" opacity="0.55"/><rect x="728" y="740" width="9" height="8" fill="#a1d4b2"/><rect x="740" y="734" width="9" height="1" fill="#a1d4b2" opacity="0.55"/><rect x="740" y="735" width="9" height="13" fill="#a1d4b2"/><rect x="752" y="733" width="9" height="1" fill="#e0686b" opacity="0.55"/><rect x="752" y="734" width="9" height="14" fill="#e0686b"/><rect x="764" y="736" width="9" height="1" fill="#e0686b" opacity="0.55"/><rect x="764" y="737" width="9" height="11" fill="#e0686b"/><rect x="776" y="737" width="9" height="1" fill="#a1d4b2" opacity="0.55"/><rect x="776" y="738" width="9" height="10" fill="#a1d4b2"/><rect x="788" y="739" width="9" height="1" fill="#a1d4b2" opacity="0.55"/><rect x="788" y="740" width="9" height="8" fill="#a1d4b2"/><rect x="800" y="727" width="9" height="1" fill="#a1d4b2" opacity="0.55"/><rect x="800" y="728" width="9" height="20" fill="#a1d4b2"/><rect x="812" y="741" width="9" height="1" fill="#e0686b" opacity="0.55"/><rect x="812" y="742" width="9" height="6" fill="#e0686b"/><rect x="824" y="724" width="9" height="1" fill="#e0686b" opacity="0.55"/><rect x="824" y="725" width="9" height="23" fill="#e0686b"/><rect x="836" y="733" width="9" height="1" fill="#e0686b" opacity="0.55"/><rect x="836" y="734" width="9" height="14" fill="#e0686b"/><rect x="848" y="734" width="9" height="1" fill="#a1d4b2" opacity="0.55"/><rect x="848" y="735" width="9" height="13" fill="#a1d4b2"/><rect x="859" y="734" width="10" height="1" fill="#e0686b" opacity="0.55"/><rect x="859" y="735" width="10" height="13" fill="#e0686b"/><rect x="871" y="726" width="10" height="1" fill="#e0686b" opacity="0.55"/><rect x="871" y="727" width="10" height="21" fill="#e0686b"/><rect x="883" y="734" width="9" height="1" fill="#a1d4b2" opacity="0.55"/><rect x="883" y="735" width="9" height="13" fill="#a1d4b2"/><rect x="895" y="728" width="9" height="1" fill="#e0686b" opacity="0.55"/><rect x="895" y="729" width="9" height="19" fill="#e0686b"/><rect x="907" y="729" width="9" height="1" fill="#a1d4b2" opacity="0.55"/><rect x="907" y="730" width="9" height="18" fill="#a1d4b2"/><rect x="919" y="735" width="9" height="1" fill="#a1d4b2" opacity="0.55"/><rect x="919" y="736" width="9" height="12" fill="#a1d4b2"/><rect x="931" y="735" width="9" height="1" fill="#e0686b" opacity="0.55"/><rect x="931" y="736" width="9" height="12" fill="#e0686b"/><rect x="943" y="728" width="9" height="1" fill="#e0686b" opacity="0.55"/><rect x="943" y="729" width="9" height="19" fill="#e0686b"/><rect x="955" y="728" width="9" height="1" fill="#e0686b" opacity="0.55"/><rect x="955" y="729" width="9" height="19" fill="#e0686b"/><rect x="967" y="727" width="9" height="1" fill="#a1d4b2" opacity="0.55"/><rect x="967" y="728" width="9" height="20" fill="#a1d4b2"/><rect x="979" y="730" width="9" height="1" fill="#a1d4b2" opacity="0.55"/><rect x="979" y="731" width="9" height="17" fill="#a1d4b2"/><rect x="991" y="713" width="9" height="1" fill="#a1d4b2" opacity="0.55"/><rect x="991" y="714" width="9" height="34" fill="#a1d4b2"/><rect x="1003" y="732" width="9" height="1" fill="#a1d4b2" opacity="0.55"/><rect x="1003" y="733" width="9" height="15" fill="#a1d4b2"/><rect x="1015" y="718" width="9" height="1" fill="#e0686b" opacity="0.55"/><rect x="1015" y="719" width="9" height="29" fill="#e0686b"/><rect x="1027" y="715" width="9" height="1" fill="#e0686b" opacity="0.55"/><rect x="1027" y="716" width="9" height="32" fill="#e0686b"/><rect x="1038" y="727" width="10" height="1" fill="#a1d4b2" opacity="0.55"/><rect x="1038" y="728" width="10" height="20" fill="#a1d4b2"/><rect x="1050" y="735" width="10" height="1" fill="#a1d4b2" opacity="0.55"/><rect x="1050" y="736" width="10" height="12" fill="#a1d4b2"/><rect x="1062" y="730" width="10" height="1" fill="#a1d4b2" opacity="0.55"/><rect x="1062" y="731" width="10" height="17" fill="#a1d4b2"/><rect x="1074" y="729" width="9" height="1" fill="#e0686b" opacity="0.55"/><rect x="1074" y="730" width="9" height="18" fill="#e0686b"/><rect x="1086" y="731" width="9" height="1" fill="#e0686b" opacity="0.55"/><rect x="1086" y="732" width="9" height="16" fill="#e0686b"/><rect x="1098" y="736" width="9" height="1" fill="#a1d4b2" opacity="0.55"/><rect x="1098" y="737" width="9" height="11" fill="#a1d4b2"/><rect x="1110" y="735" width="9" height="1" fill="#a1d4b2" opacity="0.55"/><rect x="1110" y="736" width="9" height="12" fill="#a1d4b2"/><rect x="1122" y="705" width="9" height="1" fill="#a1d4b2" opacity="0.55"/><rect x="1122" y="706" width="9" height="42" fill="#a1d4b2"/><rect x="1134" y="737" width="9" height="1" fill="#a1d4b2" opacity="0.55"/><rect x="1134" y="738" width="9" height="10" fill="#a1d4b2"/><rect x="1146" y="740" width="9" height="1" fill="#a1d4b2" opacity="0.55"/><rect x="1146" y="741" width="9" height="7" fill="#a1d4b2"/><rect x="1158" y="731" width="9" height="1" fill="#e0686b" opacity="0.55"/><rect x="1158" y="732" width="9" height="16" fill="#e0686b"/><rect x="1170" y="744" width="9" height="1" fill="#e0686b" opacity="0.55"/><rect x="1170" y="745" width="9" height="3" fill="#e0686b"/><rect x="1182" y="743" width="9" height="1" fill="#a1d4b2" opacity="0.55"/><rect x="1182" y="744" width="9" height="4" fill="#a1d4b2"/><rect x="1194" y="741" width="9" height="1" fill="#a1d4b2" opacity="0.55"/><rect x="1194" y="742" width="9" height="6" fill="#a1d4b2"/><rect x="1206" y="743" width="9" height="1" fill="#e0686b" opacity="0.55"/><rect x="1206" y="744" width="9" height="4" fill="#e0686b"/><rect x="1218" y="745" width="9" height="1" fill="#e0686b" opacity="0.55"/><rect x="1218" y="746" width="9" height="2" fill="#e0686b"/><rect x="1229" y="744" width="10" height="1" fill="#a1d4b2" opacity="0.55"/><rect x="1229" y="745" width="10" height="3" fill="#a1d4b2"/><rect x="1241" y="745" width="10" height="1" fill="#e0686b" opacity="0.55"/><rect x="1241" y="746" width="10" height="2" fill="#e0686b"/></svg>
<div class="b" style="left:1019px;top:517px;width:2px;height:8px;background:#e6e6e6"></div>
<div class="b" style="left:1010px;top:497px;width:20px;height:20px;background:#e6e6e6;box-shadow:2px 2px 4px rgba(0,0,0,.42)"></div>
<span class="t" style="left:1016.07px;top:501px;font-size:12px;font-weight:700;color:#2d80d2;">N</span>
<div class="b" style="left:1346px;top:506px;width:46px;height:17px;background:#222"></div>
<span class="t" style="left:1351.23px;top:509px;font-size:12px;font-weight:700;color:#fff;transform:scaleX(1.0225);">103.19</span>
<span class="t" style="left:1351.27px;top:439px;font-size:12px;font-weight:400;color:#333;transform:scaleX(1.0221);">105.00</span>
<span class="t" style="left:1351.27px;top:536px;font-size:12px;font-weight:400;color:#333;transform:scaleX(1.0221);">102.50</span>
<span class="t" style="left:1351.27px;top:634px;font-size:12px;font-weight:400;color:#333;transform:scaleX(1.0221);">100.00</span>
<span class="t" style="left:49.43px;top:758px;font-size:12px;font-weight:400;color:#555;">02:00</span>
<span class="t" style="left:145.43px;top:758px;font-size:12px;font-weight:400;color:#555;">04:00</span>
<span class="t" style="left:240.43px;top:758px;font-size:12px;font-weight:400;color:#555;">08:00</span>
<span class="t" style="left:335.97px;top:758px;font-size:12px;font-weight:400;color:#555;transform:scaleX(1.0193);">10:00</span>
<span class="t" style="left:430.97px;top:758px;font-size:12px;font-weight:400;color:#555;transform:scaleX(1.0193);">12:00</span>
<span class="t" style="left:526.97px;top:758px;font-size:12px;font-weight:400;color:#555;transform:scaleX(1.0193);">14:00</span>
<span class="t" style="left:621.97px;top:758px;font-size:12px;font-weight:400;color:#555;transform:scaleX(1.0193);">16:00</span>
<span class="t" style="left:717.97px;top:758px;font-size:12px;font-weight:400;color:#555;transform:scaleX(1.0193);">18:00</span>
<span class="t" style="left:813.61px;top:758px;font-size:12px;font-weight:400;color:#555;">20:00</span>
<span class="t" style="left:909.61px;top:758px;font-size:12px;font-weight:400;color:#555;">22:00</span>
<span class="t" style="left:1000.91px;top:758px;font-size:12px;font-weight:400;color:#555;transform:scaleX(1.0815);">3/18</span>
<span class="t" style="left:1100.43px;top:758px;font-size:12px;font-weight:400;color:#555;">02:00</span>
<span class="t" style="left:1195.43px;top:758px;font-size:12px;font-weight:400;color:#555;">04:00</span>
<span class="t" style="left:1291.43px;top:758px;font-size:12px;font-weight:400;color:#555;">08:00</span>
<div class="b" style="left:23px;top:788px;width:1383px;height:50px;border:1px solid #d9dcdf;box-sizing:border-box"></div>
<span class="t" style="left:100.30px;top:799px;font-size:12px;font-weight:400;color:#232526;">1</span>
<svg class="cj" role="img" aria-label="日" style="left:106.00px;top:797.84px;" width="11.87" height="14.09"><text x="-0.112" y="11.264" font-size="12" fill="#232526">日</text></svg>
<span class="t" style="left:92.34px;top:818px;font-size:10px;font-weight:400;color:#0a8a37;transform:scaleX(1.1166);-webkit-text-stroke:0.3px #0a8a37;">-0.37%</span>
<div class="b" style="left:196px;top:789px;width:1px;height:48px;background:#d9dcdf"></div>
<span class="t" style="left:273.95px;top:799px;font-size:12px;font-weight:400;color:#232526;">1</span>
<svg class="cj" role="img" aria-label="周" style="left:279.40px;top:797.60px;" width="14.16" height="14.54"><text x="1.604" y="11.504" font-size="12" fill="#232526">周</text></svg>
<span class="t" style="left:261.32px;top:818px;font-size:10px;font-weight:400;color:#d91400;transform:scaleX(1.0782);-webkit-text-stroke:0.3px #d91400;">+12.40%</span>
<div class="b" style="left:368px;top:789px;width:1px;height:48px;background:#d9dcdf"></div>
<span class="t" style="left:439.95px;top:799px;font-size:12px;font-weight:400;color:#232526;">1</span>
<svg class="cj" role="img" aria-label="个月" style="left:445.00px;top:797.01px;" width="25.43" height="15.06"><text x="1.580" y="12.092" font-size="12" fill="#232526">个月</text></svg>
<span class="t" style="left:434.97px;top:818px;font-size:10px;font-weight:400;color:#d91400;transform:scaleX(1.0139);-webkit-text-stroke:0.3px #d91400;">+48.19%</span>
<div class="b" style="left:541px;top:789px;width:1px;height:48px;background:#d9dcdf"></div>
<span class="t" style="left:613.56px;top:799px;font-size:12px;font-weight:400;color:#232526;">3</span>
<svg class="cj" role="img" aria-label="个月" style="left:620.20px;top:797.01px;" width="25.43" height="15.06"><text x="1.580" y="12.092" font-size="12" fill="#232526">个月</text></svg>
<span class="t" style="left:606.82px;top:818px;font-size:10px;font-weight:400;color:#d91400;transform:scaleX(1.0664);-webkit-text-stroke:0.3px #d91400;">+72.84%</span>
<div class="b" style="left:714px;top:789px;width:1px;height:48px;background:#d9dcdf"></div>
<span class="t" style="left:785.92px;top:799px;font-size:12px;font-weight:400;color:#232526;">6</span>
<svg class="cj" role="img" aria-label="个月" style="left:791.60px;top:797.01px;" width="25.43" height="15.06"><text x="1.580" y="12.092" font-size="12" fill="#232526">个月</text></svg>
<span class="t" style="left:780.29px;top:818px;font-size:10px;font-weight:400;color:#d91400;transform:scaleX(1.0258);-webkit-text-stroke:0.3px #d91400;">+53.31%</span>
<div class="b" style="left:887px;top:789px;width:1px;height:48px;background:#d9dcdf"></div>
<span class="t" style="left:964.85px;top:799px;font-size:12px;font-weight:400;color:#232526;">1</span>
<svg class="cj" role="img" aria-label="年" style="left:969.40px;top:796.97px;" width="14.87" height="15.09"><text x="1.424" y="12.128" font-size="12" fill="#232526">年</text></svg>
<span class="t" style="left:952.55px;top:818px;font-size:10px;font-weight:400;color:#d91400;transform:scaleX(1.0634);-webkit-text-stroke:0.3px #d91400;">+47.45%</span>
<div class="b" style="left:1060px;top:789px;width:1px;height:48px;background:#d9dcdf"></div>
<span class="t" style="left:1137.37px;top:799px;font-size:12px;font-weight:400;color:#232526;">5</span>
<svg class="cj" role="img" aria-label="年" style="left:1143.10px;top:796.97px;" width="14.87" height="15.09"><text x="1.424" y="12.128" font-size="12" fill="#232526">年</text></svg>
<span class="t" style="left:1125.02px;top:818px;font-size:10px;font-weight:400;color:#d91400;transform:scaleX(1.0967);-webkit-text-stroke:0.3px #d91400;">+63.39%</span>
<div class="b" style="left:1232px;top:789px;width:1px;height:48px;background:#d9dcdf"></div>
<svg class="cj" role="img" aria-label="最大值" style="left:1300.30px;top:797.02px;" width="38.93" height="15.04"><text x="1.436" y="12.080" font-size="12" fill="#232526">最大值</text></svg>
<span class="t" style="left:1295.25px;top:818px;font-size:10px;font-weight:400;color:#d91400;transform:scaleX(1.0672);-webkit-text-stroke:0.3px #d91400;">+561.06%</span>
</body></html>
